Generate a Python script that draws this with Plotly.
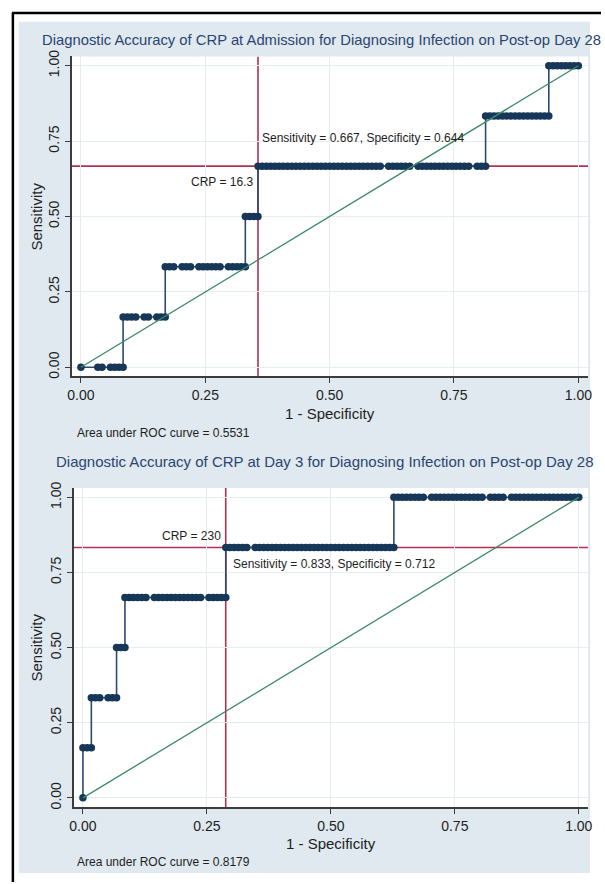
import plotly.graph_objects as go

# ---------------- data ----------------
N_NEG = 118          # grid of 1-specificity steps
N_POS = 6            # sensitivity steps of 1/6

# Panel 1 – CRP at admission: false-positive counts for each true-positive count
adm_fp_tp0 = [0, 4, 5, 7, 8, 9, 10]
adm_fp_tp1 = [10, 11, 12, 13, 15, 16, 18, 19, 20]
adm_fp_tp2 = [20, 21, 22, 24, 25, 26, 28, 29, 30, 31, 32, 33, 35, 36, 37, 38, 39]
adm_fp_tp3 = [39, 40, 41, 42]
adm_fp_tp4 = [42, 43, 44, 45, 46, 47, 48, 49, 50, 51, 52, 53, 54, 55, 56, 57, 58, 59, 60,
              61, 62, 63, 64, 65, 66, 67, 68, 69, 70, 71, 73, 74, 75, 76, 77, 78, 80, 81,
              82, 83, 84, 85, 86, 87, 88, 89, 90, 91, 92, 94, 95, 96]
adm_fp_tp5 = [96, 97, 98, 99, 100, 101, 102, 103, 104, 105, 106, 107, 108, 109, 110, 111]
adm_fp_tp6 = [111, 112, 113, 114, 115, 116, 117, 118]

# Panel 2 – CRP at day 3
d3_fp_tp0 = [0]
d3_fp_tp1 = [0, 1, 2]
d3_fp_tp2 = [2, 3, 4, 6, 7, 8]
d3_fp_tp3 = [8, 9, 10]
d3_fp_tp4 = [10, 11, 12, 13, 14, 15, 17, 18, 19, 20, 21, 22, 23, 24, 25, 26, 27, 28,
             30, 31, 32, 33, 34]
d3_fp_tp5 = [34, 35, 36, 37, 38, 39, 41, 42, 43, 44, 45, 46, 47, 48, 49, 50, 51, 52, 53,
             54, 55, 56, 57, 58, 59, 60, 61, 62, 63, 64, 65, 66, 67, 68, 69, 70, 71, 72,
             73, 74]
d3_fp_tp6 = [74, 75, 76, 77, 78, 79, 80, 81, 83, 84, 85, 86, 87, 88, 89, 90, 91, 92, 93,
             94, 95, 97, 98, 99, 100, 102, 103, 104, 105, 106, 107, 108, 109, 110, 111,
             112, 113, 114, 115, 116, 117, 118]

diag_x = [0, 1]
diag_y = [0, 1]

titles = ["Diagnostic Accuracy of CRP at Admission for Diagnosing Infection on Post-op Day 28",
          "Diagnostic Accuracy of CRP at Day 3 for Diagnosing Infection on Post-op Day 28"]
cut_sens = [0.667, 0.833]
cut_spec = [0.644, 0.712]
cut_crp = ["16.3", "230"]
auc = ["0.5531", "0.8179"]

tick_vals = [0, 0.25, 0.5, 0.75, 1]
tick_text = ["0.00", "0.25", "0.50", "0.75", "1.00"]


def roc_xy(levels):
    xs, ys = [], []
    for tp, fps in enumerate(levels):
        for fp in fps:
            xs.append(fp / N_NEG)
            ys.append(tp / N_POS)
    return xs, ys


adm_x, adm_y = roc_xy([adm_fp_tp0, adm_fp_tp1, adm_fp_tp2, adm_fp_tp3,
                       adm_fp_tp4, adm_fp_tp5, adm_fp_tp6])
d3_x, d3_y = roc_xy([d3_fp_tp0, d3_fp_tp1, d3_fp_tp2, d3_fp_tp3,
                     d3_fp_tp4, d3_fp_tp5, d3_fp_tp6])

# ---------------- styling ----------------
W, H = 605, 884
FONT = "Liberation Sans, Arial, Helvetica, sans-serif"
NAVY = "#173759"
LINE_NAVY = "#2b4a6c"
GREEN = "#3d8a66"
RED = "#b3304f"
BG = "#dfe9ef"
GRID = "#e6edf1"
AXIS = "#3c3c3c"
TXT = "#1e1e1e"
TITLE_C = "#2c456f"


def px_x(p):
    return p / W


def px_y(p):
    return 1 - p / H


fig = go.Figure()

for i, (xs, ys) in enumerate([(adm_x, adm_y), (d3_x, d3_y)]):
    xa = "x" if i == 0 else "x2"
    ya = "y" if i == 0 else "y2"
    fig.add_trace(go.Scatter(x=xs, y=ys, mode="lines+markers", xaxis=xa, yaxis=ya,
                             line=dict(color=LINE_NAVY, width=1.6),
                             marker=dict(color=NAVY, size=7.5, line=dict(width=0)),
                             showlegend=False, hoverinfo="skip"))
    fig.add_trace(go.Scatter(x=diag_x, y=diag_y, mode="lines", xaxis=xa, yaxis=ya,
                             line=dict(color=GREEN, width=1.3),
                             showlegend=False, hoverinfo="skip"))

axis_common = dict(showline=True, linecolor=AXIS, linewidth=1.5, mirror=False,
                   ticks="outside", ticklen=5, tickwidth=1, tickcolor=AXIS,
                   tickvals=tick_vals, ticktext=tick_text,
                   tickfont=dict(family=FONT, size=14, color=TXT),
                   showgrid=True, gridcolor=GRID, gridwidth=1, zeroline=False,
                   fixedrange=True)

plot_px = [(68.5, 592, 50, 373.3), (70.7, 592, 486, 808.3)]   # left, right, top, bottom

fig.update_layout(
    width=W, height=H,
    margin=dict(l=0, r=0, t=0, b=0),
    paper_bgcolor="white", plot_bgcolor="white",
    font=dict(family=FONT, color=TXT),
    xaxis=dict(domain=[px_x(plot_px[0][0]), px_x(plot_px[0][1])], range=[-0.0188, 1.0198],
               anchor="y", **axis_common),
    yaxis=dict(domain=[px_y(plot_px[0][3]), px_y(plot_px[0][2])], range=[-0.0305, 1.0305],
               anchor="x", tickangle=-90, **axis_common),
    xaxis2=dict(domain=[px_x(plot_px[1][0]), px_x(plot_px[1][1])], range=[-0.0185, 1.019],
                anchor="y2", **axis_common),
    yaxis2=dict(domain=[px_y(plot_px[1][3]), px_y(plot_px[1][2])], range=[-0.0306, 1.031],
                anchor="x2", tickangle=-90, **axis_common),
)

shapes = []
# light blue graph region, then white plot regions on top of it
shapes.append(dict(type="rect", xref="paper", yref="paper", x0=px_x(15), x1=px_x(594),
                   y0=px_y(875), y1=px_y(15), fillcolor=BG, line=dict(width=0), layer="below"))
for (l, r, t, b) in plot_px:
    shapes.append(dict(type="rect", xref="paper", yref="paper", x0=px_x(l), x1=px_x(r),
                       y0=px_y(b), y1=px_y(t), fillcolor="white", line=dict(width=0),
                       layer="below"))

# reference (cut-off) lines
ylims = [(-0.0305, 1.0305), (-0.0306, 1.031)]
xlims = [(-0.0188, 1.0198), (-0.0185, 1.019)]
for i in range(2):
    xr = "x" if i == 0 else "x2"
    yr = "y" if i == 0 else "y2"
    fpr = 1 - cut_spec[i]
    shapes.append(dict(type="line", xref=xr, yref=yr, x0=fpr, x1=fpr,
                       y0=ylims[i][0], y1=ylims[i][1],
                       line=dict(color=RED, width=1.6), layer="below"))
    shapes.append(dict(type="line", xref=xr, yref=yr, x0=xlims[i][0], x1=xlims[i][1],
                       y0=cut_sens[i], y1=cut_sens[i],
                       line=dict(color=RED, width=1.6), layer="below"))

# black frame (top and left)
shapes.append(dict(type="line", xref="paper", yref="paper", x0=px_x(8), x1=1,
                   y0=px_y(6), y1=px_y(6), line=dict(color="black", width=2.5), layer="above"))
shapes.append(dict(type="line", xref="paper", yref="paper", x0=px_x(9), x1=px_x(9),
                   y0=0, y1=px_y(6), line=dict(color="black", width=2.5), layer="above"))
fig.update_layout(shapes=shapes)

ann = []
title_y = [33, 459.5]
title_x = [322, 325]
title_size = [14.8, 15]
auc_y = [430, 864]
auc_x = [71.5, 72]
xt_y = [411, 845]
xt_x = [330, 331]
yt_y = [211.7, 647]
for i in range(2):
    ann.append(dict(text=titles[i], xref="paper", yref="paper", x=px_x(title_x[i]),
                    y=px_y(title_y[i]), xanchor="center", yanchor="middle", showarrow=False,
                    font=dict(family=FONT, size=title_size[i], color=TITLE_C)))
    ann.append(dict(text="Area under ROC curve = " + auc[i], xref="paper", yref="paper",
                    x=px_x(auc_x[i]), y=px_y(auc_y[i]), xanchor="left", yanchor="middle",
                    showarrow=False, font=dict(family=FONT, size=12, color=TXT)))
    ann.append(dict(text="1 - Specificity", xref="paper", yref="paper",
                    x=px_x(xt_x[i]), y=px_y(xt_y[i]), xanchor="center", yanchor="middle",
                    showarrow=False, font=dict(family=FONT, size=15, color=TXT)))
    ann.append(dict(text="Sensitivity", xref="paper", yref="paper", textangle=-90,
                    x=px_x(32.5), y=px_y(yt_y[i]), xanchor="center", yanchor="middle",
                    showarrow=False, font=dict(family=FONT, size=15, color=TXT)))

fpr1, fpr2 = 1 - cut_spec[0], 1 - cut_spec[1]
ann.append(dict(text="Sensitivity = %.3f, Specificity = %.3f" % (cut_sens[0], cut_spec[0]),
                xref="x", yref="y", x=fpr1, y=0.760, xanchor="left", yanchor="middle",
                xshift=2, showarrow=False, font=dict(family=FONT, size=12, color=TXT)))
ann.append(dict(text="CRP = " + cut_crp[0], xref="x", yref="y", x=fpr1, y=0.615,
                xanchor="right", yanchor="middle", xshift=-3, showarrow=False,
                font=dict(family=FONT, size=12, color=TXT)))
ann.append(dict(text="CRP = " + cut_crp[1], xref="x2", yref="y2", x=fpr2, y=0.870,
                xanchor="right", yanchor="middle", xshift=-3, showarrow=False,
                font=dict(family=FONT, size=12, color=TXT)))
ann.append(dict(text="Sensitivity = %.3f, Specificity = %.3f" % (cut_sens[1], cut_spec[1]),
                xref="x2", yref="y2", x=fpr2, y=0.777, xanchor="left", yanchor="middle",
                xshift=5, showarrow=False, font=dict(family=FONT, size=12, color=TXT)))
fig.update_layout(annotations=ann)

fig.write_html("out.html", config={"displayModeBar": False},
               post_script="document.body.style.margin='0';document.body.style.padding='0';")
